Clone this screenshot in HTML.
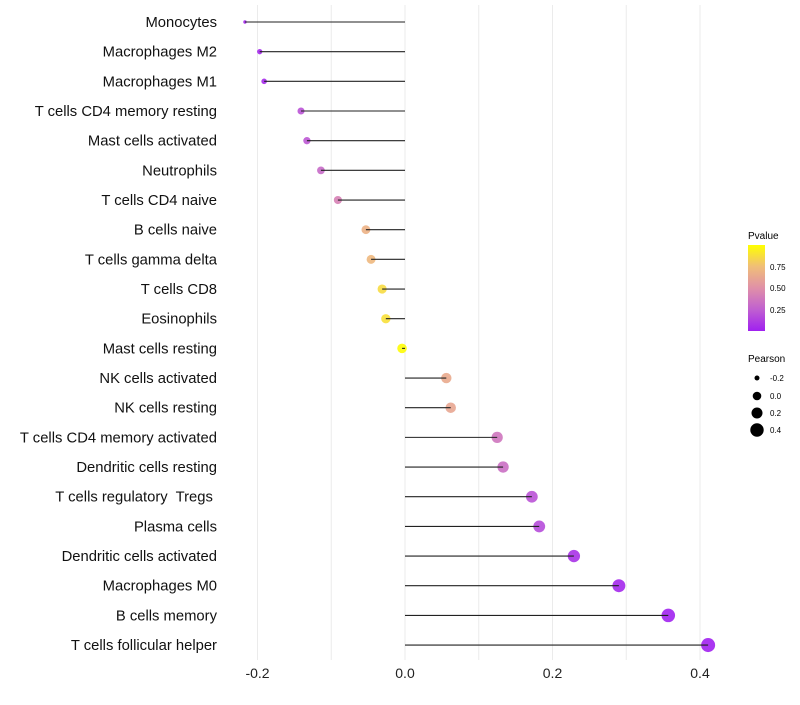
<!DOCTYPE html>
<html><head><meta charset="utf-8"><style>
body{margin:0;background:#fff;font-family:"Liberation Sans",sans-serif}
text{white-space:pre}
</style></head><body>
<svg id="chart" width="800" height="700" xmlns="http://www.w3.org/2000/svg" font-family="Liberation Sans, sans-serif">
<defs><linearGradient id="pg" x1="0" y1="1" x2="0" y2="0">
<stop offset="0" stop-color="#A020F0"/><stop offset="0.25" stop-color="#C060D0"/><stop offset="0.5" stop-color="#E090A8"/><stop offset="0.75" stop-color="#F0BE78"/><stop offset="1" stop-color="#FFFF00"/></linearGradient></defs>
<g id="grid"></g><g id="marks"></g><g id="stems"></g><g id="labels"></g>
<g>
<text x="748" y="239" font-size="10">Pvalue</text>
<rect x="748" y="245" width="17" height="86" fill="url(#pg)"/>
<text x="770" y="270" font-size="8">0.75</text><text x="770" y="291" font-size="8">0.50</text><text x="770" y="313" font-size="8">0.25</text>
</g>
<g>
<text x="748" y="362" font-size="10">Pearson</text>
<circle cx="757" cy="378" r="2.5"/><text x="770" y="381" font-size="8">-0.2</text>
<circle cx="757" cy="396" r="4.3"/><text x="770" y="399" font-size="8">0.0</text>
<circle cx="757" cy="413" r="5.5"/><text x="770" y="416" font-size="8">0.2</text>
<circle cx="757" cy="430" r="6.7"/><text x="770" y="433" font-size="8">0.4</text>
</g>
</svg>
<script>
const categories=["Monocytes","Macrophages M2","Macrophages M1","T cells CD4 memory resting","Mast cells activated","Neutrophils","T cells CD4 naive","B cells naive","T cells gamma delta","T cells CD8","Eosinophils","Mast cells resting","NK cells activated","NK cells resting","T cells CD4 memory activated","Dendritic cells resting","T cells regulatory  Tregs ","Plasma cells","Dendritic cells activated","Macrophages M0","B cells memory","T cells follicular helper"];
const pearson=[-0.217,-0.197,-0.191,-0.141,-0.133,-0.114,-0.091,-0.053,-0.046,-0.031,-0.026,-0.004,0.056,0.062,0.125,0.133,0.172,0.182,0.229,0.290,0.357,0.411];
const pvalue=[0.02,0.03,0.04,0.2,0.22,0.3,0.42,0.68,0.72,0.86,0.88,0.99,0.64,0.62,0.36,0.33,0.2,0.17,0.07,0.03,0.01,0.005];
const xTicks=[-0.2,0,0.2,0.4];
const xTickLabels=["-0.2","0.0","0.2","0.4"];
const NS="http://www.w3.org/2000/svg";
const x=v=>405+v*737.5, y=i=>22+i*29.67;
function mk(t,a,p){const e=document.createElementNS(NS,t);for(const k in a)e.setAttribute(k,a[k]);p.appendChild(e);return e;}
const stops=[[0,[160,32,240]],[0.25,[192,96,208]],[0.5,[224,144,168]],[0.75,[240,190,120]],[1,[255,255,0]]];
function col(p){for(let i=1;i<stops.length;i++){if(p<=stops[i][0]){const a=stops[i-1],b=stops[i],t=(p-a[0])/(b[0]-a[0]);return "rgb("+a[1].map((c,j)=>Math.round(c+(b[1][j]-c)*t)).join(",")+")";}}return "rgb(255,255,0)";}
const g=document.getElementById('grid'),m=document.getElementById('marks'),st=document.getElementById('stems'),l=document.getElementById('labels');
for(let v=-0.2;v<=0.45;v+=0.1){const ln=mk('line',{x1:x(v),x2:x(v),y1:5,y2:660,stroke:'#ebebeb','stroke-width':1},g);

}
xTicks.forEach((v,i)=>{const t=mk('text',{x:x(v),y:678,'font-size':14,'text-anchor':'middle',fill:'#222'},l);t.textContent=xTickLabels[i];

});
categories.forEach((c,i)=>{
const t=mk('text',{x:217,y:y(i)+5,'font-size':14.8,'text-anchor':'end',fill:'#111'},l);t.textContent=c;


const d=mk('circle',{cx:x(pearson[i]),cy:y(i),r:1.7+6.7*Math.sqrt(Math.max(0,pearson[i]+0.217)),fill:col(pvalue[i]),'fill-opacity':0.9},m);


const s=mk('line',{x1:x(0),x2:x(pearson[i]),y1:y(i),y2:y(i),stroke:'#222','stroke-width':1.1},st);


});
</script>
</body></html>
